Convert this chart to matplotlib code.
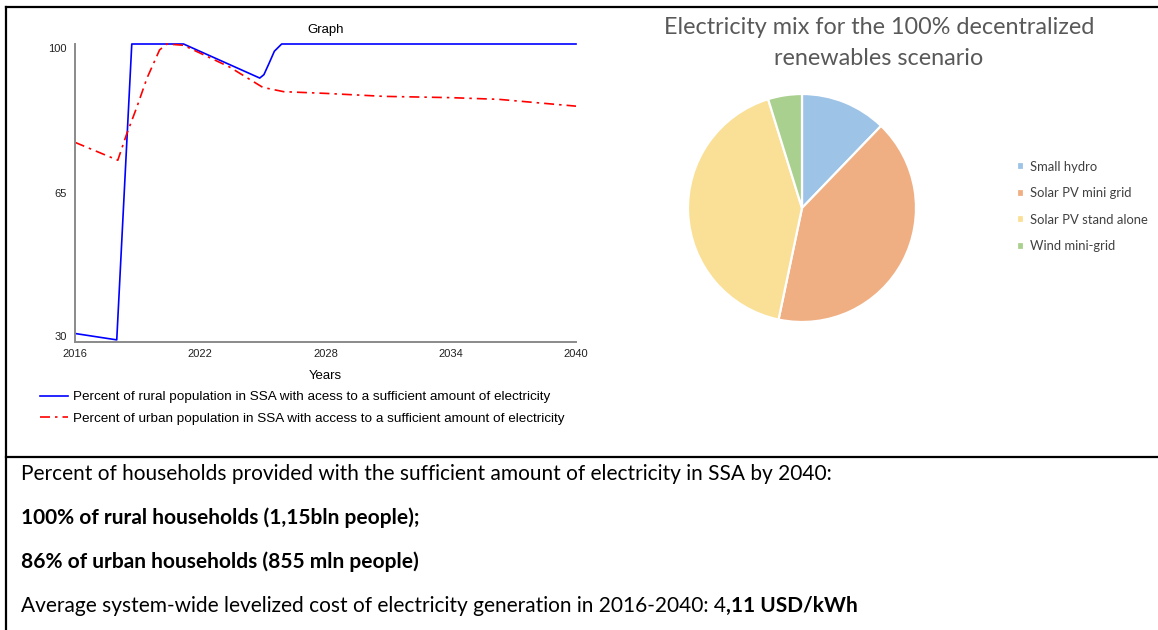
import matplotlib
matplotlib.use("Agg")
import matplotlib.pyplot as plt
from matplotlib.lines import Line2D

# --- data ---
RURAL_YEARS = [2016, 2018.0, 2018.72, 2021.2, 2024.85, 2025.05, 2025.3, 2025.55, 2025.9, 2040]
RURAL_PCT = [32.0, 30.5, 100, 100, 92.0, 92.8, 95.5, 98.3, 100, 100]
URBAN_YEARS = [2016, 2018.05, 2018.45, 2018.95, 2019.45, 2020.05, 2020.4, 2021.2,
               2023.4, 2025.0, 2026.0, 2028.0, 2030.8, 2034.0, 2036.3, 2040]
URBAN_PCT = [76.9, 72.7, 78.5, 85.0, 92.0, 98.6, 100, 99.7,
             94.6, 89.8, 88.8, 88.4, 87.7, 87.4, 87.0, 85.4]
X_TICKS = [2016, 2022, 2028, 2034, 2040]
Y_TICKS = [30, 65, 100]

MIX_LABELS = ["Small hydro", "Solar PV mini grid", "Solar PV stand alone", "Wind mini-grid"]
MIX_SHARE = [12.2, 41.1, 41.9, 4.8]
MIX_COLORS = ["#9DC3E6", "#F0AF83", "#FAE096", "#A9D08E"]

W, H = 1158, 630
fig = plt.figure(figsize=(W / 100, H / 100), dpi=100)


def fx(px):
    return px / W


def fy(py):
    return 1 - py / H


# --- frame lines ---
for xs, ys in [([6, W], [7, 7]), ([6, 6], [7, H]), ([6, W], [457, 457])]:
    fig.add_artist(Line2D([fx(v) for v in xs], [fy(v) for v in ys],
                          transform=fig.transFigure, color="black", lw=1.6))

# --- line chart ---
ARIAL = "Liberation Sans"
ax = fig.add_axes([fx(75), fy(342), fx(576) - fx(75), fy(44) - fy(342)])
ax.plot(RURAL_YEARS, RURAL_PCT, color="#0000FF", lw=1.2, clip_on=False)
ax.plot(URBAN_YEARS, URBAN_PCT, color="#FF0000", lw=1.2, dashes=(6, 3, 1.5, 3), clip_on=False)
ax.set_xlim(2016, 2040)
ax.set_ylim(30, 100)
ax.set_xticks(X_TICKS)
ax.set_yticks(Y_TICKS)
ax.tick_params(length=0, labelsize=8, colors="#222222")
ax.tick_params(axis="x", pad=5)
ax.tick_params(axis="y", pad=6)
for lab in ax.get_xticklabels() + ax.get_yticklabels():
    lab.set_fontfamily(ARIAL)
ylabs = ax.get_yticklabels()
ylabs[0].set_va("bottom")
ylabs[-1].set_va("top")
for s in ["top", "right"]:
    ax.spines[s].set_visible(False)
for s in ["left", "bottom"]:
    ax.spines[s].set_color("#8a8a8a")
    ax.spines[s].set_linewidth(1.4)
ax.set_title("Graph", fontsize=9.5, family=ARIAL, pad=8)
ax.set_xlabel("Years", fontsize=9.5, family=ARIAL, labelpad=8)

handles = [Line2D([], [], color="#0000FF", lw=1.2),
           Line2D([], [], color="#FF0000", lw=1.2, dashes=(6, 3, 1.5, 3))]
fig.legend(handles,
           ["Percent of rural population in SSA with acess to a sufficient amount of electricity",
            "Percent of urban population in SSA with access to a sufficient amount of electricity"],
           loc="upper left", bbox_to_anchor=(fx(40), fy(391)), frameon=False,
           borderpad=0, borderaxespad=0, handlelength=2.05, handletextpad=0.37,
           labelspacing=0.68, prop={"family": ARIAL, "size": 9.7})

# --- pie chart ---
CAL = "Lato"
R = 114
axp = fig.add_axes([fx(802 - R), fy(208 + R), fx(2 * R), fy(0) - fy(2 * R)])
wedges, _ = axp.pie(MIX_SHARE, colors=MIX_COLORS, startangle=90, counterclock=False,
                    wedgeprops={"edgecolor": "white", "linewidth": 1.6})
axp.set_xlim(-1, 1)
axp.set_ylim(-1, 1)
fig.text(fx(879), fy(43), "Electricity mix for the 100% decentralized\nrenewables scenario",
         ha="center", va="center", fontsize=16.8, family=CAL, color="#595959",
         linespacing=1.6)
fig.legend(wedges, MIX_LABELS, loc="center left", bbox_to_anchor=(fx(1017), fy(206.5)),
           frameon=False, borderpad=0, borderaxespad=0, handlelength=0.55,
           handleheight=0.55, handletextpad=0.45, labelspacing=1.12,
           prop={"family": CAL, "size": 9.4}, labelcolor="#404040")

# --- summary text ---
TXT = 15.0
fig.text(fx(21), fy(474), "Percent of households provided with the sufficient amount of "
         "electricity in SSA by 2040:", va="center", fontsize=TXT, family=CAL)
fig.text(fx(21), fy(518), "100% of rural households (1,15bln people);", va="center",
         fontsize=TXT, family=CAL, fontweight="bold")
fig.text(fx(21), fy(562), "86% of urban households (855 mln people)", va="center",
         fontsize=TXT, family=CAL, fontweight="bold")
t = fig.text(fx(21), fy(606), "Average system-wide levelized cost of electricity generation "
             "in 2016-2040: 4", va="center", fontsize=TXT, family=CAL)
axp.annotate(",11 USD/kWh", xy=(1, 0.5), xycoords=t, va="center", ha="left",
             fontsize=TXT, family=CAL, fontweight="bold", annotation_clip=False)

fig.savefig("out.png", dpi=100)
